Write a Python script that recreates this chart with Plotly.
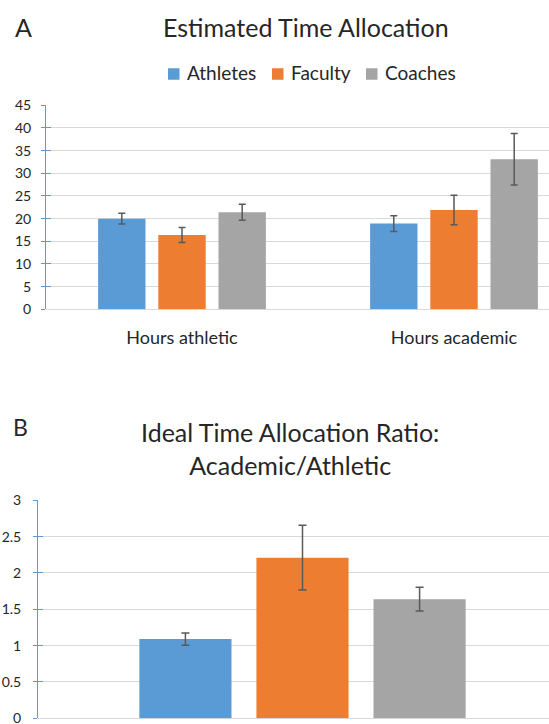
import plotly.graph_objects as go

# ---- data ----
groups = ["Athletes", "Faculty", "Coaches"]
colors = ["#5B9BD5", "#ED7D31", "#A5A5A5"]

cats_a = ["Hours athletic", "Hours academic"]
hours_athletes = [20.0, 18.9]
hours_faculty = [16.4, 21.9]
hours_coaches = [21.4, 33.1]
err_athletes = [1.2, 1.75]
err_faculty = [1.65, 3.25]
err_coaches = [1.75, 5.7]

cats_b = ["Academic/Athletic"]
ratio_athletes = [1.09]
ratio_faculty = [2.21]
ratio_coaches = [1.64]
rerr_athletes = [0.085]
rerr_faculty = [0.445]
rerr_coaches = [0.165]

yticks_a = [0, 5, 10, 15, 20, 25, 30, 35, 40, 45]
yticks_b = [0, 0.5, 1, 1.5, 2, 2.5, 3]

W, H = 549, 724
FONT = "Lato"
TXT = "#262626"
AXBLUE = "#5B9BD5"
GRID = "#D9D9D9"
ERRC = "#595959"

fig = go.Figure()

a_vals = [hours_athletes, hours_faculty, hours_coaches]
a_errs = [err_athletes, err_faculty, err_coaches]
b_vals = [ratio_athletes, ratio_faculty, ratio_coaches]
b_errs = [rerr_athletes, rerr_faculty, rerr_coaches]

for name, col, v, e in zip(groups, colors, a_vals, a_errs):
    fig.add_trace(go.Bar(
        x=cats_a, y=v, name=name, marker=dict(color=col, line=dict(width=0)),
        error_y=dict(type="data", array=e, color=ERRC, thickness=1.5, width=3.5),
        xaxis="x", yaxis="y", offsetgroup=name, showlegend=False))

for name, col, v, e in zip(groups, colors, b_vals, b_errs):
    fig.add_trace(go.Bar(
        x=cats_b, y=v, name=name, marker=dict(color=col, line=dict(width=0)),
        error_y=dict(type="data", array=e, color=ERRC, thickness=1.5, width=4),
        xaxis="x2", yaxis="y2", offsetgroup=name, showlegend=False))

def px_y(top, bottom):
    return [(H - bottom) / H, (H - top) / H]

ya_dom = px_y(105.3, 309.3)
yb_dom = px_y(500.3, 718.3)

common_y = dict(showgrid=True, gridcolor=GRID, gridwidth=1, zeroline=True,
                zerolinecolor=GRID, zerolinewidth=1, showline=True,
                linecolor=AXBLUE, linewidth=1, ticks="outside", ticklen=4,
                tickcolor=AXBLUE, tickwidth=1, automargin=False,
                ticklabeloverflow="allow",
                tickfont=dict(family=FONT, size=14, color=TXT))

fig.update_layout(
    width=W, height=H,
    margin=dict(l=0, r=0, t=0, b=0, autoexpand=False),
    paper_bgcolor="white", plot_bgcolor="white",
    barmode="group", bargap=0.336, bargroupgap=0.213,
    font=dict(family=FONT, color=TXT),
    showlegend=False,
    xaxis=dict(domain=[46 / W, 1], anchor="y", type="category",
               range=[-0.5, -0.5 + 503 / 272], showgrid=False, zeroline=False,
               showline=False, ticks="", ticklabelstandoff=16, automargin=False,
               tickfont=dict(family=FONT, size=18, color=TXT)),
    yaxis=dict(domain=ya_dom, anchor="x", range=[0, 45], tickvals=yticks_a,
               ticklabelstandoff=7, **common_y),
    yaxis3=dict(overlaying="y", anchor="x", range=[0, 45], tickvals=yticks_a,
                showgrid=False, zeroline=False, showline=False, showticklabels=False,
                ticks="inside", ticklen=5, tickcolor=AXBLUE, tickwidth=1,
                automargin=False),
    xaxis2=dict(domain=[38 / W, 1], anchor="y2", type="category",
                range=[-0.5, -0.5 + 511 / 529], showgrid=False, zeroline=False,
                showline=False, ticks="", showticklabels=False, automargin=False),
    yaxis2=dict(domain=yb_dom, anchor="x2", range=[0, 3], tickvals=yticks_b,
                ticklabelstandoff=9, **common_y),
    yaxis4=dict(overlaying="y2", anchor="x2", range=[0, 3], tickvals=yticks_b,
                showgrid=False, zeroline=False, showline=False, showticklabels=False,
                ticks="inside", ticklen=5, tickcolor=AXBLUE, tickwidth=1,
                automargin=False),
)

# dummy traces to activate the overlay axes (tick crossing marks)
fig.add_trace(go.Scatter(x=[cats_a[0]], y=[None], xaxis="x", yaxis="y3",
                         showlegend=False, hoverinfo="skip"))
fig.add_trace(go.Scatter(x=[cats_b[0]], y=[None], xaxis="x2", yaxis="y4",
                         showlegend=False, hoverinfo="skip"))

ann = [
    dict(text="A", x=23.6 / W, y=(H - 27) / H, font=dict(size=25)),
    dict(text="B", x=20 / W, y=(H - 427) / H, font=dict(size=23)),
    dict(text="Estimated Time Allocation", x=306 / W, y=(H - 27) / H,
         font=dict(size=25)),
    dict(text="Ideal Time Allocation Ratio:<br>Academic/Athletic", x=290 / W,
         y=(H - 448) / H, font=dict(size=25)),
]
for a in ann:
    a.update(xref="paper", yref="paper", showarrow=False, xanchor="center",
             yanchor="middle")

# legend (Excel-style: small square key close to its label)
legend_key_x = [168, 272, 366]
legend_y = 74
shapes = []
for name, col, kx in zip(groups, colors, legend_key_x):
    shapes.append(dict(type="rect", xref="paper", yref="paper",
                       x0=kx / W, x1=(kx + 11.5) / W,
                       y0=(H - legend_y - 5.75) / H, y1=(H - legend_y + 5.75) / H,
                       fillcolor=col, line=dict(width=0)))
    ann.append(dict(text=name, x=(kx + 17) / W, y=(H - 72.5) / H,
                    xref="paper", yref="paper", showarrow=False,
                    xanchor="left", yanchor="middle", font=dict(size=19)))

for a in ann:
    a.setdefault("font", {})
    a["font"].update(family=FONT, color=TXT)
fig.update_layout(annotations=ann, shapes=shapes)

fig.write_html("out.html")
